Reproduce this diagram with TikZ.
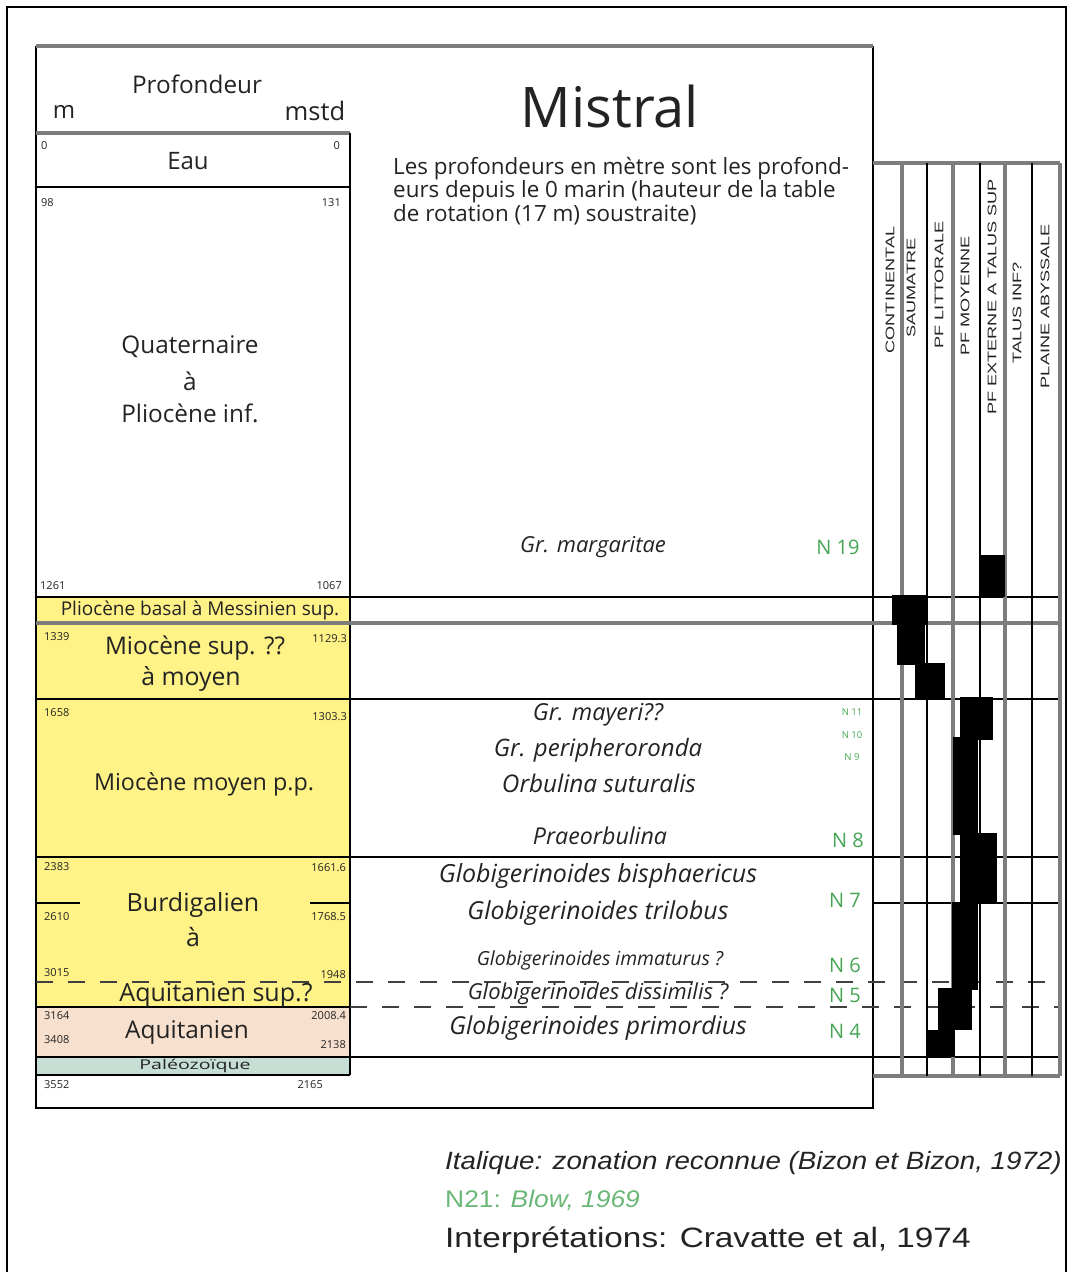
\documentclass[tikz,border=0pt]{standalone}
\usepackage{fontspec}
\setmainfont{Open Sans}
\newfontfamily\arialf{Liberation Sans}
\definecolor{yel}{RGB}{255,242,135}
\definecolor{pinkq}{RGB}{248,224,206}
\definecolor{tealq}{RGB}{198,222,212}
\definecolor{grn}{RGB}{70,165,85}
\definecolor{gline}{RGB}{125,125,125}
\definecolor{txt}{RGB}{35,35,35}
\newcommand{\fs}[1]{\fontsize{#1}{#1}\selectfont}
\begin{document}
\begin{tikzpicture}[x=1pt,y=-1pt,
  bl/.style={line width=2.6pt,black},
  gl/.style={line width=3.2pt,gline},
  dl/.style={line width=2.6pt,black!75,dash pattern=on 17pt off 15pt},
  thinf/.style={line width=1.4pt,black},
  lbl/.style={inner sep=0pt,text=txt},
  num/.style={lbl,font=\fs{11}},
  big/.style={lbl,font=\fs{24.3}},
  sp/.style={lbl,font=\fs{24.3}\itshape},
  nz/.style={inner sep=0pt,text=grn,font=\fs{20}},
  nzs/.style={inner sep=0pt,text=grn,font=\fs{9.5}},
  env/.style={inner sep=0pt,rotate=90,text=txt,font=\arialf\fs{12.5}},
  blk/.style={fill=black}
]
\useasboundingbox (0,0) rectangle (1070,1272);
% outer frame
\draw[thinf] (7,1272) -- (7,7) -- (1066,7) -- (1066,1272);
% fills
\fill[yel] (36,597) rectangle (350,1007);
\fill[pinkq] (36,1007) rectangle (350,1057);
\fill[tealq] (36,1057) rectangle (350,1075);
% main box
\draw[bl] (36,46) -- (36,1108) -- (873,1108) -- (873,46);
\draw[gl] (36,46) -- (873,46);
% depth column
\draw[gl] (36,133) -- (350,133);
\draw[bl] (350,133) -- (350,1075);
\draw[bl] (36,187) -- (350,187);
\draw[bl] (36,1075) -- (350,1075);
\draw[bl] (36,903) -- (80,903);
\draw[bl] (310,903) -- (350,903);
\draw[bl] (36,1007) -- (350,1007);
% long horizontals
\draw[bl] (36,597) -- (1060,597);
\draw[gl] (36,623) -- (1060,623);
\draw[bl] (36,699) -- (1060,699);
\draw[bl] (36,857) -- (1060,857);
\draw[bl] (36,1057) -- (1060,1057);
\draw[dl] (36,982) -- (1060,982);
\draw[dl] (350,1007) -- (1060,1007);
% environment chart
\draw[gl] (873,163) -- (1060,163);
\draw[bl] (873,903) -- (1060,903);
\draw[gl] (873,1076) -- (1060,1076);
\foreach \xx in {927,980,1032} \draw[bl] (\xx,163) -- (\xx,1076);
\foreach \xx in {902,953,1005,1060} \draw[gl] (\xx,163) -- (\xx,1076);
% blocks
\fill[blk] (980,555) rectangle (1005,597);
\fill[blk] (892,595) rectangle (927,625);
\fill[blk] (897,625) rectangle (925,665);
\fill[blk] (915,663) rectangle (945,700);
\fill[blk] (960,697) rectangle (993,740);
\fill[blk] (953,737) rectangle (978,835);
\fill[blk] (960,833) rectangle (997,902);
\fill[blk] (952,902) rectangle (978,990);
\fill[blk] (938,988) rectangle (972,1030);
\fill[blk] (927,1030) rectangle (955,1057);
% env labels
\node[env] (e1) at (890,290) {\scalebox{1.45}[1]{CONTINENTAL}};
\node[env] (e2) at (911,288) {\scalebox{1.45}[1]{SAUMATRE}};
\node[env] (e3) at (939,285) {\scalebox{1.45}[1]{PF LITTORALE}};
\node[env] (e4) at (965,296) {\scalebox{1.45}[1]{PF MOYENNE}};
\node[env] (e5) at (992,297) {\scalebox{1.45}[1]{PF EXTERNE A TALUS SUP}};
\node[env] (e6) at (1017,313) {\scalebox{1.45}[1]{TALUS INF?}};
\node[env] (e7) at (1045,306) {\scalebox{1.45}[1]{PLAINE ABYSSALE}};
% header
\node[lbl,font=\fs{24.3}] (prof) at (197,84) {Profondeur};
\node[lbl,font=\fs{24}] (m) at (64,112) {m};
\node[lbl,font=\fs{25.5}] (mstd) at (315,111) {mstd};
\node[lbl,font=\fs{56}] (title) at (610,106) {Mistral};
\node[lbl,font=\fontsize{22.4}{23.5}\selectfont,align=left,anchor=north west] (para) at (393,157)
 {Les profondeurs en mètre sont les profond-\\eurs depuis le 0 marin (hauteur de la table\\de rotation (17 m) soustraite)};
% depth column texts
\node[num,anchor=west] (n0a) at (41,146) {0};
\node[num,anchor=east] (n0b) at (340,146) {0};
\node[lbl,font=\fs{24}] (eau) at (188,161) {Eau};
\node[num,anchor=west] (n98) at (41,203) {98};
\node[num,anchor=east] (n131) at (341,203) {131};
\node[big] (q1) at (190,347) {Quaternaire};
\node[big] (q2) at (190,381) {à};
\node[big] (q3) at (190,413) {Pliocène inf.};
\node[num,anchor=west] (n1261) at (40,586) {1261};
\node[num,anchor=east] (n1067) at (342,586) {1067};
\node[lbl,font=\fs{19}] (plio) at (200,610) {Pliocène basal à Messinien sup.};
\node[num,anchor=west] (n1339) at (44,637) {1339};
\node[num,anchor=east] (n1129) at (347,639) {1129.3};
\node[lbl,font=\fs{24.3}] (ms1) at (195,648) {Miocène sup. ??};
\node[lbl,font=\fs{24.8}] (ms2) at (191,679) {à moyen};
\node[num,anchor=west] (n1658) at (44,713) {1658};
\node[num,anchor=east] (n1303) at (347,717) {1303.3};
\node[lbl,font=\fs{23.3}] (mm) at (204,784) {Miocène moyen p.p.};
\node[num,anchor=west] (n2383) at (44,867) {2383};
\node[num,anchor=east] (n1661) at (346,868) {1661.6};
\node[lbl,font=\fs{25}] (bu1) at (193,905) {Burdigalien};
\node[num,anchor=west] (n2610) at (44,917) {2610};
\node[num,anchor=east] (n1768) at (346,917) {1768.5};
\node[lbl,font=\fs{25}] (bu2) at (193,937) {à};
\node[num,anchor=west] (n3015) at (44,973) {3015};
\node[num,anchor=east] (n1948) at (346,975) {1948};
\node[lbl,font=\fs{25}] (aq1) at (216,995) {Aquitanien sup.?};
\node[num,anchor=west] (n3164) at (44,1016) {3164};
\node[num,anchor=east] (n2008) at (346,1016) {2008.4};
\node[lbl,font=\fs{24.4}] (aq2) at (187,1032) {Aquitanien};
\node[num,anchor=west] (n3408) at (44,1040) {3408};
\node[num,anchor=east] (n2138) at (346,1045) {2138};
\node[lbl,font=\fs{13.5}] (pal) at (195,1066) {\scalebox{1.45}[1]{Paléozoïque}};
\node[num,anchor=west] (n3552) at (44,1085) {3552};
\node[num,anchor=east] (n2165) at (323,1085) {2165};
% species
\node[sp,font=\fs{22}\itshape] (s1) at (593,547) {Gr. margaritae};
\node[nz] (z19) at (838,547) {N 19};
\node[sp,font=\fs{23.4}\itshape] (s2) at (598,715) {Gr. mayeri??};
\node[sp,font=\fs{24}\itshape] (s3) at (598,750) {Gr. peripheroronda};
\node[sp] (s4) at (599,783) {Orbulina suturalis};
\node[sp,font=\fs{23.2}\itshape] (s5) at (600,836) {Praeorbulina};
\node[nzs] (z11) at (852,712) {N 11};
\node[nzs] (z10) at (852,735) {N 10};
\node[nzs] (z9) at (852,757) {N 9};
\node[nz] (z8) at (848,840) {N 8};
\node[sp,font=\fs{25}\itshape] (s6) at (598,876) {Globigerinoides bisphaericus};
\node[sp,font=\fs{24.8}\itshape] (s7) at (598,913) {Globigerinoides trilobus};
\node[nz] (z7) at (845,900) {N 7};
\node[sp,font=\fs{19.4}\itshape] (s8) at (600,960) {Globigerinoides immaturus ?};
\node[nz] (z6) at (845,965) {N 6};
\node[sp,font=\fs{22}\itshape] (s9) at (598,994) {Globigerinoides dissimilis ?};
\node[nz] (z5) at (845,995) {N 5};
\node[sp,font=\fs{24.7}\itshape] (s10) at (598,1028) {Globigerinoides primordius};
\node[nz] (z4) at (845,1031) {N 4};
% legend
\node[lbl,anchor=west,font=\arialf\fs{25}\itshape] (leg1) at (445,1163) {\scalebox{1.11}[1]{Italique: zonation reconnue (Bizon et Bizon, 1972)}};
\node[inner sep=0pt,anchor=west,text=grn!80,font=\arialf\fs{24}] (leg2) at (445,1200) {\scalebox{1.1}[1]{N21: \textit{Blow, 1969}}};
\node[lbl,anchor=west,font=\arialf\fs{28}] (leg3) at (445,1240) {\scalebox{1.19}[1]{Interprétations: Cravatte et al, 1974}};
\end{tikzpicture}
\end{document}
